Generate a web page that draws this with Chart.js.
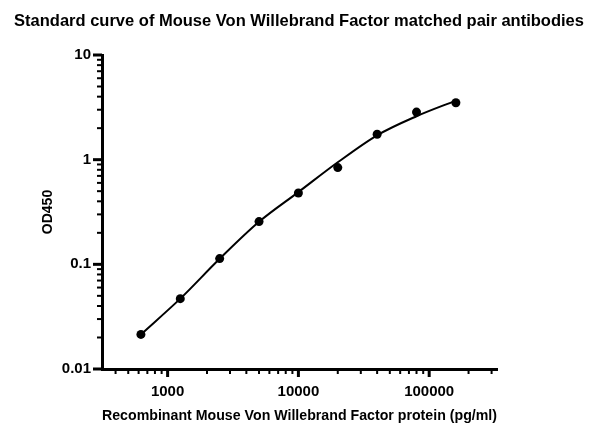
<!DOCTYPE html>
<html>
<head>
<meta charset="utf-8">
<script src="https://cdn.jsdelivr.net/npm/chart.js@4/dist/chart.umd.min.js"></script>
<style>
  body { margin: 0; background: #fff; }
  #wrap { width: 598px; height: 437px; }
</style>
</head>
<body>
<div id="wrap"><canvas id="curveChart" width="598" height="437"></canvas></div>
<script>
// standard points (pg/ml vs OD450)
const concentrations = [625, 1250, 2500, 5000, 10000, 20000, 40000, 80000, 160000];
const odValues = [0.0214, 0.047, 0.1135, 0.256, 0.48, 0.84, 1.75, 2.85, 3.50];
// fitted curve
const curveX = [625, 1250, 2500, 5000, 10000, 20000, 40000, 80000, 160000];
const curveY = [0.0214, 0.047, 0.113, 0.255, 0.49, 0.944, 1.71, 2.60, 3.67];

const xTickLabels = [1000, 10000, 100000];
const yTickLabels = [0.01, 0.1, 1, 10];

const xMin = 315, xMax = 330000;
const yMin = 0.01, yMax = 10;

const FONT = "'Liberation Sans', Arial, sans-serif";

// majors plus the 2..9 minors of each decade, kept inside the range
function logTicks(min, max) {
  const out = [];
  for (let e = Math.floor(Math.log10(min)) ; e <= Math.ceil(Math.log10(max)); e++) {
    for (let k = 1; k <= 9; k++) {
      const v = parseFloat((k * Math.pow(10, e)).toPrecision(6));
      if (v >= min * 0.999 && v <= max * 1.001) out.push(v);
    }
  }
  return out;
}

function isMajor(v) {
  const l = Math.log10(v);
  return Math.abs(l - Math.round(l)) < 1e-9;
}

// tick marks: long for decades, short for the rest
const tickMarks = {
  id: "tickMarks",
  afterDraw(chart) {
    const ctx = chart.ctx;
    const xs = chart.scales.x, ys = chart.scales.y;
    const area = chart.chartArea;
    ctx.save();
    ctx.strokeStyle = "#000";
    for (let t of xs.ticks) {
      const px = xs.getPixelForValue(t.value);
      const major = isMajor(t.value);
      ctx.lineWidth = major ? 3 : 2;
      ctx.beginPath();
      ctx.moveTo(px, area.bottom);
      ctx.lineTo(px, area.bottom + (major ? 8 : 5));
      ctx.stroke();
    }
    for (let t of ys.ticks) {
      const py = ys.getPixelForValue(t.value);
      const major = isMajor(t.value);
      ctx.lineWidth = major ? 3 : 2;
      ctx.beginPath();
      ctx.moveTo(area.left, py);
      ctx.lineTo(area.left - (major ? 9 : 5), py);
      ctx.stroke();
    }
    ctx.restore();
  }
};

new Chart(document.getElementById("curveChart"), {
  type: "scatter",
  data: {
    datasets: [
      {
        label: "fit",
        data: curveX.map((x, i) => ({ x: x, y: curveY[i] })),
        showLine: true,
        borderColor: "#000",
        borderWidth: 2,
        pointRadius: 0,
        cubicInterpolationMode: "monotone"
      },
      {
        label: "standards",
        data: concentrations.map((x, i) => ({ x: x, y: odValues[i] })),
        showLine: false,
        pointRadius: 4.5,
        pointBackgroundColor: "#000",
        pointBorderColor: "#000",
        pointBorderWidth: 0
      }
    ]
  },
  options: {
    responsive: false,
    animation: false,
    layout: { padding: 0 },
    plugins: {
      legend: { display: false },
      tooltip: { enabled: false },
      title: {
        display: true,
        text: "Standard curve of Mouse Von Willebrand Factor matched pair antibodies",
        color: "#000",
        font: { family: FONT, size: 16.5, weight: "bold" },
        padding: { top: 12, bottom: 23.2 }
      }
    },
    scales: {
      x: {
        type: "logarithmic",
        min: xMin,
        max: xMax,
        afterBuildTicks: (s) => { s.ticks = logTicks(xMin, xMax).map(v => ({ value: v })); },
        afterFit: (s) => { s.height = 68; },
        grid: { display: false, drawTicks: true, tickLength: 8 },
        border: { display: true, color: "#000", width: 3 },
        ticks: {
          autoSkip: false,
          maxRotation: 0,
          padding: 6,
          color: "#000",
          font: { family: FONT, size: 15, weight: "bold" },
          callback: (v) => xTickLabels.includes(v) ? String(v) : ""
        },
        title: {
          display: true,
          text: "Recombinant Mouse Von Willebrand Factor protein (pg/ml)",
          color: "#000",
          font: { family: FONT, size: 14.75, weight: "bold" },
          padding: { top: 0, bottom: 12 }
        }
      },
      y: {
        type: "logarithmic",
        min: yMin,
        max: yMax,
        afterBuildTicks: (s) => { s.ticks = logTicks(yMin, yMax).map(v => ({ value: v })); },
        afterFit: (s) => { s.width = 102; },
        grid: { display: false, drawTicks: true, tickLength: 8 },
        border: { display: true, color: "#000", width: 3 },
        ticks: {
          autoSkip: false,
          padding: 3,
          color: "#000",
          font: { family: FONT, size: 15, weight: "bold" },
          callback: (v) => yTickLabels.includes(v) ? String(v) : ""
        },
        title: {
          display: true,
          text: "OD450",
          color: "#000",
          font: { family: FONT, size: 14, weight: "bold" },
          padding: { top: 40, bottom: 0 }
        }
      },
      // empty right-hand strip so the plot ends where the reference does
      spacer: {
        type: "linear",
        position: "right",
        display: true,
        afterFit: (s) => { s.width = 101; },
        grid: { display: false, drawTicks: false },
        border: { display: false },
        ticks: { display: false }
      }
    }
  },
  plugins: [tickMarks]
});
</script>
</body>
</html>
